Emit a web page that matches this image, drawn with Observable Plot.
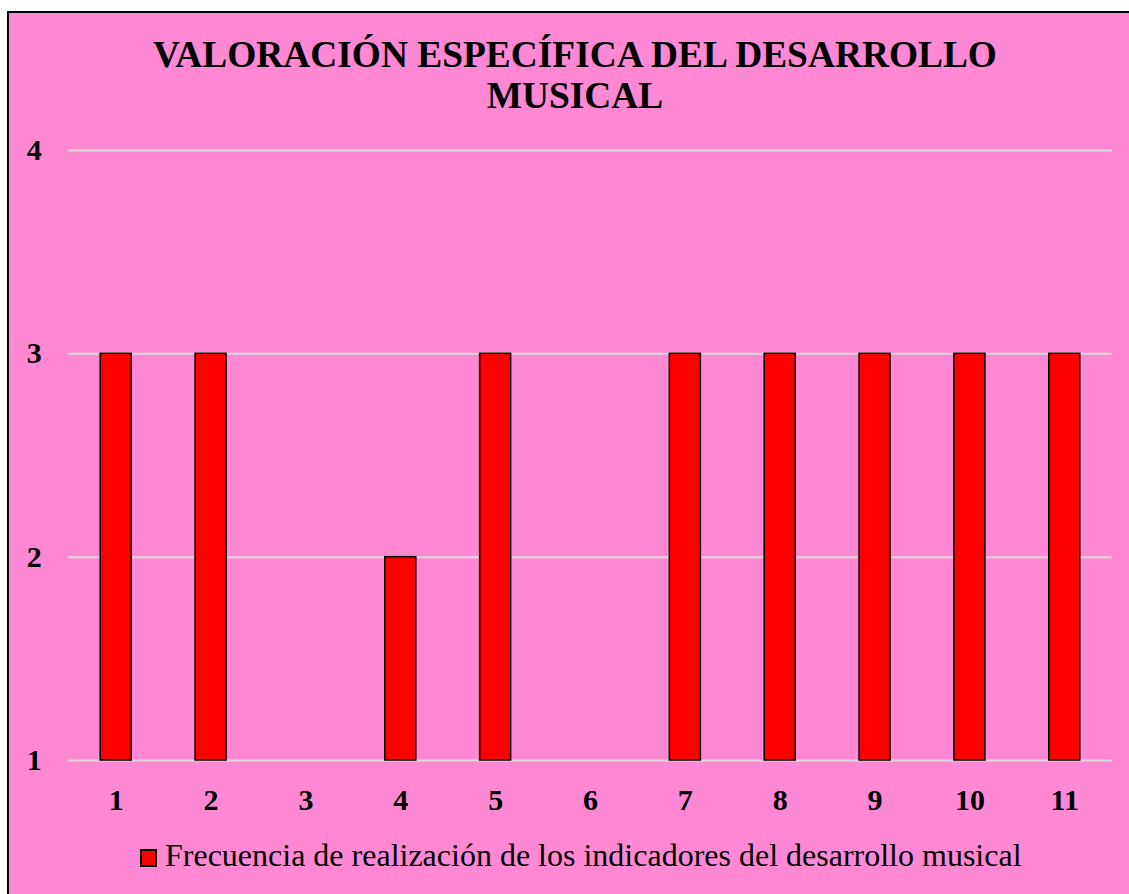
<!DOCTYPE html>
<html>
<head>
<meta charset="utf-8">
<script src="https://cdn.jsdelivr.net/npm/d3@7"></script>
<script src="https://cdn.jsdelivr.net/npm/@observablehq/plot@0.6"></script>
<style>
  html, body { margin: 0; padding: 0; background: #fff; overflow: hidden; width: 1129px; height: 894px; }
  body { position: relative; font-family: "Liberation Serif", "Times New Roman", serif; }
  #frame { position: absolute; left: 7px; top: 11px; width: 1140px; height: 900px; background: #FF88D5; border: 2px solid #000; box-sizing: border-box; }
  #title { position: absolute; left: 135px; width: 880px; top: 34px; text-align: center; font-weight: bold; font-size: 37.4px; line-height: 41px; color: #000; }
  #chart { position: absolute; left: 0; top: 120px; }
  #chart svg text { font-size: 30px; font-weight: bold; fill: #000; font-family: "Liberation Serif", "Times New Roman", serif; }
  #swatch { position: absolute; left: 140px; top: 849px; width: 17px; height: 18px; background: #FF0000; border: 2px solid #000; box-sizing: border-box; }
  #legendText { position: absolute; left: 165px; top: 839px; font-size: 32px; line-height: 32px; color: #000; white-space: nowrap; }
</style>
</head>
<body>
<div id="frame"></div>
<div id="title">VALORACIÓN ESPECÍFICA DEL DESARROLLO MUSICAL</div>
<div id="chart"></div>
<div id="swatch"></div>
<div id="legendText"></div>
<script>
const categories = ["1","2","3","4","5","6","7","8","9","10","11"];
const values = [3, 3, 1, 2, 3, 1, 3, 3, 3, 3, 3];
const yTicks = [1, 2, 3, 4];
const seriesName = "Frecuencia de realización de los indicadores del desarrollo musical";

document.getElementById("legendText").textContent = seriesName;

const data = categories.map((c, i) => ({cat: c, value: values[i]}));

const chart = Plot.plot({
  width: 1129,
  height: 700,
  marginLeft: 68.3,
  marginRight: 17.3,
  marginTop: 30,
  marginBottom: 60,
  style: { background: "transparent", fontFamily: "'Liberation Serif', 'Times New Roman', serif", overflow: "visible" },
  x: { type: "band", domain: categories, paddingInner: 0.673, paddingOuter: 0.3365, round: false },
  y: { domain: [1, 4] },
  marks: [
    Plot.gridY(yTicks, { stroke: "#D9D9D9", strokeOpacity: 1, strokeWidth: 2 }),
    Plot.barY(data.filter(d => d.value > 1), {
      x: "cat", y1: () => 1, y2: "value",
      fill: "#FF0000", stroke: "#000", strokeWidth: 1.5
    }),
    Plot.axisX({ tickSize: 0, tickPadding: 28, fontSize: 30, fontWeight: "bold", fill: "#000", label: null }),
    Plot.axisY({ ticks: yTicks, tickSize: 0, tickPadding: 27, fontSize: 30, fontWeight: "bold", fill: "#000", label: null, tickFormat: d => String(d) })
  ]
});
document.getElementById("chart").appendChild(chart);
</script>
</body>
</html>
